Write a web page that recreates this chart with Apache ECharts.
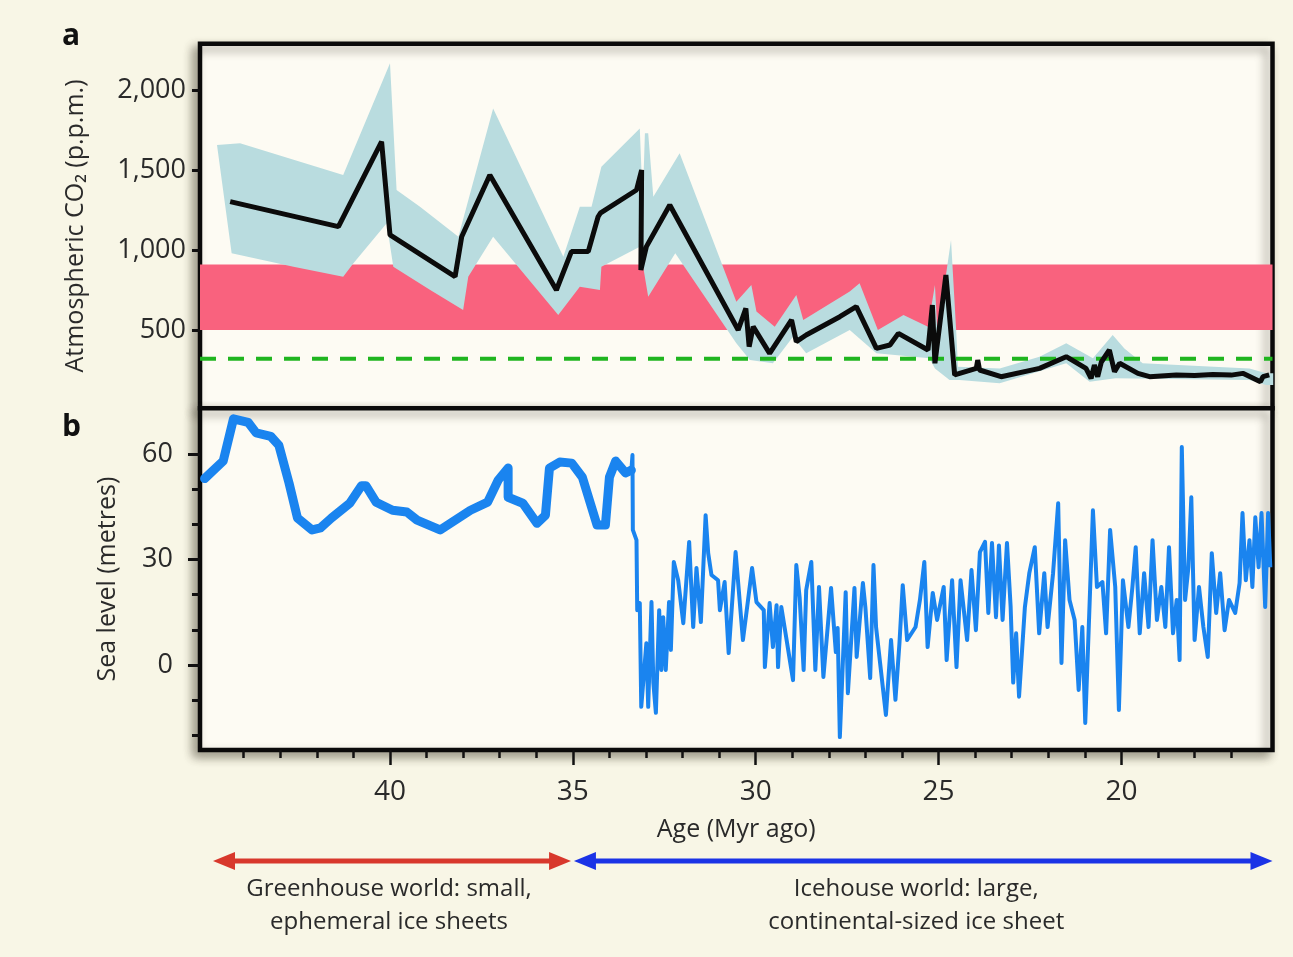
<!DOCTYPE html>
<html>
<head>
<meta charset="utf-8">
<script src="https://cdn.jsdelivr.net/npm/echarts/dist/echarts.min.js"></script>
<style>
html,body{margin:0;padding:0;background:#f8f6e6;}
#c{width:1293px;height:957px;}
</style>
</head>
<body>
<div id="c"></div>
<script>
// ---------------- DATA ----------------
// Panel a: atmospheric CO2 (p.p.m.) vs age (Myr ago)
const co2Age   = [44.37,41.41,40.23,40.0,38.22,38.04,37.27,35.45,35.04,34.58,34.31,34.25,33.26,33.12,33.14,32.99,32.35,30.48,30.27,30.18,30.07,29.62,29.02,28.89,28.62,27.7,27.25,26.7,26.33,26.1,25.29,25.17,25.1,24.8,24.56,23.97,23.93,23.88,23.29,22.24,21.51,20.97,20.83,20.74,20.65,20.55,20.33,20.19,20.05,19.55,19.23,18.5,18.0,17.5,17.0,16.68,16.2,16.13,15.96];
const co2Value = [1302,1146,1677,1094,833,1083,1469,750,990,990,1208,1230,1375,1500,875,1021,1281,500,635,396,521,354,563,427,469,583,646,385,406,479,375,656,292,844,219,260,312,250,208,260,333,260,198,281,208,300,375,240,292,229,208,219,215,222,218,229,177,208,219];

// uncertainty envelope (upper and lower edges)
const bandUpperAge   = [44.73,44.10,41.28,40.0,39.82,39.18,38.13,37.18,35.26,34.81,34.49,34.22,33.17,33.09,33.03,32.94,32.8,32.08,30.53,30.12,29.98,29.48,28.89,28.7,27.43,27.16,26.66,25.96,25.29,25.1,25.03,24.66,24.52,24.47,23.33,22.24,21.51,20.78,20.24,19.92,19.42,16.5,16.04,15.85];
const bandUpperValue = [1656,1667,1469,2167,1375,1271,1083,1885,958,1271,1271,1521,1760,1300,1730,1729,1333,1604,677,781,615,521,719,563,740,792,500,594,521,781,480,1063,500,271,260,333,417,323,469,385,292,260,229,229];
const bandLowerAge   = [44.73,44.33,42.64,41.28,41.0,40.09,39.91,38.9,38.0,37.86,37.18,35.4,34.81,34.26,34.22,33.17,32.94,32.2,30.53,30.16,29.53,28.98,28.62,27.43,26.7,25.25,25.1,24.7,24.43,23.33,21.51,20.87,20.16,16.5,16.04,15.85];
const bandLowerValue = [1656,979,896,833,917,1167,896,750,625,833,1083,594,771,750,896,1021,708,979,417,312,292,458,354,500,354,323,260,188,188,167,292,177,198,188,156,156];

const pinkBand   = [500, 910];   // p.p.m. range shaded in pink
const presentCO2 = 320;          // green dashed reference level

// Panel b: sea level (metres)
const seaGreenAge = [45.07,44.56,44.28,43.88,43.66,43.26,43.04,42.76,42.53,42.13,41.9,41.6,41.1,40.78,40.66,40.38,39.93,39.54,39.26,38.63,37.8,37.33,37.04,36.77,36.77,36.37,35.98,35.75,35.64,35.36,35.03,34.74,34.34,34.11,34.0,33.83,33.56,33.4];
const seaGreen    = [53,58,70,69,66,65,62.5,51.7,41.8,38.4,39,41.8,46,51,51,46.3,44,43.5,41.2,38.4,44,46.3,52.6,56,47.7,46,40.3,42.6,56,57.7,57.4,53.4,39.8,39.8,53.4,58,54.6,55.4];

const seaIceAge = [33.4,33.37,33.36,33.26,33.24,33.17,33.13,32.99,32.94,32.85,32.8,32.73,32.64,32.58,32.53,32.46,32.37,32.32,32.24,32.12,31.98,31.82,31.71,31.62,31.5,31.37,31.3,31.21,31.03,30.98,30.85,30.74,30.55,30.35,30.21,30.1,29.98,29.78,29.75,29.62,29.53,29.43,29.39,29.3,28.98,28.89,28.8,28.69,28.62,28.48,28.37,28.27,28.15,27.94,27.81,27.76,27.7,27.54,27.48,27.3,27.24,27.07,27.0,26.87,26.78,26.71,26.44,26.3,26.18,26.07,25.98,25.86,25.63,25.51,25.39,25.3,25.16,25.04,24.86,24.78,24.63,24.51,24.4,24.22,24.1,23.98,23.87,23.73,23.64,23.54,23.43,23.35,23.25,23.13,23.03,22.96,22.88,22.8,22.64,22.52,22.37,22.25,22.11,22.02,21.87,21.73,21.64,21.54,21.42,21.28,21.17,21.07,20.99,20.9,20.78,20.67,20.52,20.42,20.31,20.17,20.07,19.96,19.81,19.7,19.61,19.5,19.38,19.26,19.15,19.03,18.91,18.8,18.7,18.59,18.49,18.41,18.35,18.26,18.17,18.09,18.0,17.88,17.76,17.64,17.53,17.41,17.3,17.18,17.06,16.89,16.77,16.69,16.6,16.5,16.42,16.34,16.25,16.17,16.07,15.99,15.93];
const seaIce    = [55.4,59.7,38.4,35.5,15.6,17.6,-11.9,6.2,-11.9,17.9,-5,-13.6,15.6,-1.4,13.6,-1.4,17.9,4.3,29.3,24.1,11.9,35,10.8,27.6,12.2,42.6,31.8,25.6,24.1,15.6,23.6,3.4,32.1,7.1,18.5,27.6,17.9,15.6,-0.6,17.6,5.1,17,-0.6,16.5,-4.3,28.4,19.3,-1.4,21.3,29.3,-1.4,22.2,-3.4,21.9,3.7,10.5,-20.5,20.7,-8,21.9,2.3,23.3,16.2,-3.7,28.4,10.8,-14.2,7.1,-9.9,6.2,22.7,7.1,10.8,18.5,29.3,5.1,20.5,12.8,22.2,1.4,24.1,-0.6,24.1,7.1,27,9.9,32.1,35,14.8,34.7,13.6,34,12.8,34.7,16.5,-5,9,-9,16.5,26.1,33.5,9,26.1,10.8,26.1,46,0.6,35.5,18.5,12.8,-7.1,10.8,-16.5,9,44,22.2,23.6,9,38.4,22.2,-12.8,24.1,10.8,22.2,33.5,9,26.1,10.8,35.5,12.8,22.2,10.8,33.5,9,18.5,1.4,62,18.5,27.8,47.7,7.1,22.2,10.8,2.3,31.8,14.8,26.1,9.9,18.5,14.8,23.3,43.2,24.1,35.5,22.2,42,27.8,43.2,16.5,43.2,27.8];

// Axes / ticks
const xRange        = [15.87, 45.195];
const co2Range      = [10.6, 2289.4];
const seaRange      = [-24.17, 72.99];
const xMajorTicks   = [40, 35, 30, 25, 20];
const xMinorTicks   = [44,43,42,41,39,38,37,36,34,33,32,31,29,28,27,26,24,23,22,21,19,18,17];
const co2Ticks      = [500, 1000, 1500, 2000];
const seaMajorTicks = [0, 30, 60];
const seaMinorTicks = [-20, -10, 10, 20, 40, 50];

// Annotations
const greenhouseSpan = [44.84, 35.05];
const icehouseSpan   = [34.97, 15.87];
const greenhouseText = ['Greenhouse world: small,', 'ephemeral ice sheets'];
const icehouseText   = ['Icehouse world: large,', 'continental-sized ice sheet'];

// ---------------- CHART ----------------
const FONT = "'Open Sans', 'DejaVu Sans', sans-serif";
const TXT = '#2a2a2a';
const zip = (a, b) => a.map((v, i) => [v, b[i]]);

const gridCommon = {
  left: 200, right: 20.5, show: true,
  backgroundColor: '#fdfbf3', borderColor: '#0a0a0a', borderWidth: 4.5,
  shadowColor: 'rgba(60,55,40,0.45)', shadowBlur: 10, shadowOffsetX: -5, shadowOffsetY: 5
};

const hiddenX = (gi) => ({
  type: 'value', gridIndex: gi, min: xRange[0], max: xRange[1], inverse: true, position: 'bottom',
  axisLine: {show: false, onZero: false}, axisTick: {show: false}, axisLabel: {show: false}, splitLine: {show: false}
});

const option = {
  animation: false,
  backgroundColor: '#f8f6e6',
  grid: [
    Object.assign({}, gridCommon, {top: 43.7, height: 364.6}),
    Object.assign({}, gridCommon, {top: 408.3, height: 341.7})
  ],
  xAxis: [
    hiddenX(0),
    Object.assign(hiddenX(1), {
      axisTick: {show: true, customValues: xMajorTicks, length: 15, lineStyle: {color: '#111', width: 2.5}},
      axisLabel: {show: true, customValues: xMajorTicks, margin: 28, fontSize: 28, fontFamily: FONT, color: TXT},
      name: 'Age (Myr ago)', nameLocation: 'middle', nameGap: 67,
      nameTextStyle: {fontSize: 25, fontFamily: FONT, color: TXT}
    }),
    Object.assign(hiddenX(1), {
      axisTick: {show: true, customValues: xMinorTicks, length: 8, lineStyle: {color: '#111', width: 2.5}}
    })
  ],
  yAxis: [
    {
      type: 'value', gridIndex: 0, min: co2Range[0], max: co2Range[1], position: 'left',
      axisLine: {show: false, onZero: false}, splitLine: {show: false},
      axisTick: {show: true, customValues: co2Ticks, length: 8, lineStyle: {color: '#111', width: 3}},
      axisLabel: {show: true, customValues: co2Ticks, margin: 14, fontSize: 27, fontFamily: FONT, color: TXT,
        formatter: v => Number(v).toLocaleString('en-US')},
      name: 'Atmospheric CO\u2082 (p.p.m.)', nameLocation: 'middle', nameRotate: 90, nameGap: 112,
      nameTextStyle: {fontSize: 25, fontFamily: FONT, color: TXT}
    },
    {
      type: 'value', gridIndex: 1, min: seaRange[0], max: seaRange[1], position: 'left',
      axisLine: {show: false, onZero: false}, splitLine: {show: false},
      axisTick: {show: true, customValues: seaMajorTicks, length: 12, lineStyle: {color: '#111', width: 3}},
      axisLabel: {show: true, customValues: seaMajorTicks, margin: 27, fontSize: 27, fontFamily: FONT, color: TXT},
      name: 'Sea level (metres)', nameLocation: 'middle', nameRotate: 90, nameGap: 80,
      nameTextStyle: {fontSize: 25, fontFamily: FONT, color: TXT}
    },
    {
      type: 'value', gridIndex: 1, min: seaRange[0], max: seaRange[1], position: 'left',
      axisLine: {show: false, onZero: false}, splitLine: {show: false}, axisLabel: {show: false},
      axisTick: {show: true, customValues: seaMinorTicks, length: 8, lineStyle: {color: '#111', width: 3}}
    }
  ],
  series: [
    { // pink band
      type: 'custom', xAxisIndex: 0, yAxisIndex: 0, z: 1, silent: true,
      data: [[xRange[0], pinkBand[0]]],
      renderItem: (params, api) => {
        const a = api.coord([xRange[1], pinkBand[1]]);
        const b = api.coord([xRange[0], pinkBand[0]]);
        return {type: 'rect', shape: {x: Math.min(a[0], b[0]), y: Math.min(a[1], b[1]),
          width: Math.abs(b[0] - a[0]), height: Math.abs(b[1] - a[1])},
          style: {fill: '#f9627e'}};
      }
    },
    { // uncertainty envelope
      type: 'custom', xAxisIndex: 0, yAxisIndex: 0, z: 2, silent: true,
      data: [[bandUpperAge[0], bandUpperValue[0]]],
      renderItem: (params, api) => {
        const pts = [];
        for (let i = 0; i < bandUpperAge.length; i++) pts.push(api.coord([bandUpperAge[i], bandUpperValue[i]]));
        for (let i = bandLowerAge.length - 1; i >= 0; i--) pts.push(api.coord([bandLowerAge[i], bandLowerValue[i]]));
        return {type: 'polygon', shape: {points: pts}, style: {fill: '#b9dcdf'}};
      }
    },
    { // green dashed reference
      type: 'line', xAxisIndex: 0, yAxisIndex: 0, z: 3, symbol: 'none', silent: true,
      data: [[xRange[1], presentCO2], [xRange[0], presentCO2]],
      lineStyle: {color: '#1fb51f', width: 4, type: [16, 12]}
    },
    { // CO2 curve
      type: 'line', xAxisIndex: 0, yAxisIndex: 0, z: 4, symbol: 'none', silent: true,
      data: zip(co2Age, co2Value),
      lineStyle: {color: '#0b0b0b', width: 5}
    },
    { // sea level greenhouse
      type: 'line', xAxisIndex: 1, yAxisIndex: 1, z: 4, symbol: 'none', silent: true,
      data: zip(seaGreenAge, seaGreen),
      lineStyle: {color: '#1a84ef', width: 9, join: 'round', cap: 'round'}
    },
    { // sea level icehouse
      type: 'line', xAxisIndex: 1, yAxisIndex: 1, z: 4, symbol: 'none', silent: true,
      data: zip(seaIceAge, seaIce),
      lineStyle: {color: '#1a84ef', width: 4, join: 'round'}
    }
  ]
};

const chart = echarts.init(document.getElementById('c'), null, {renderer: 'canvas'});
chart.setOption(option);

const px = age => chart.convertToPixel({xAxisIndex: 1}, age);
const arrowY = 861;
function arrow(span, color) {
  const x1 = px(span[0]), x2 = px(span[1]);
  const L = 22, H = 9;
  return [
    {type: 'line', shape: {x1: x1 + L - 2, y1: arrowY, x2: x2 - L + 2, y2: arrowY}, style: {stroke: color, lineWidth: 5}},
    {type: 'polygon', shape: {points: [[x1, arrowY], [x1 + L, arrowY - H], [x1 + L, arrowY + H]]}, style: {fill: color}},
    {type: 'polygon', shape: {points: [[x2, arrowY], [x2 - L, arrowY - H], [x2 - L, arrowY + H]]}, style: {fill: color}}
  ];
}
function label(span, lines, dx) {
  const cx = (px(span[0]) + px(span[1])) / 2 + dx;
  return lines.map((t, i) => ({type: 'text', style: {x: cx, y: 889 + i * 33, text: t, fontSize: 24, fontFamily: FONT,
    fill: TXT, textAlign: 'center', textVerticalAlign: 'middle'}}));
}
chart.setOption({
  graphic: [
    {type: 'text', style: {x: 62, y: 36, text: 'a', fontSize: 30, fontWeight: 'bold', fontFamily: FONT, fill: '#111', textVerticalAlign: 'middle'}},
    {type: 'text', style: {x: 62, y: 427, text: 'b', fontSize: 30, fontWeight: 'bold', fontFamily: FONT, fill: '#111', textVerticalAlign: 'middle'}}
  ].concat(arrow(greenhouseSpan, '#d8382c'), arrow(icehouseSpan, '#1b33e6'),
           label(greenhouseSpan, greenhouseText, -3), label(icehouseSpan, icehouseText, -7))
});
</script>
</body>
</html>
